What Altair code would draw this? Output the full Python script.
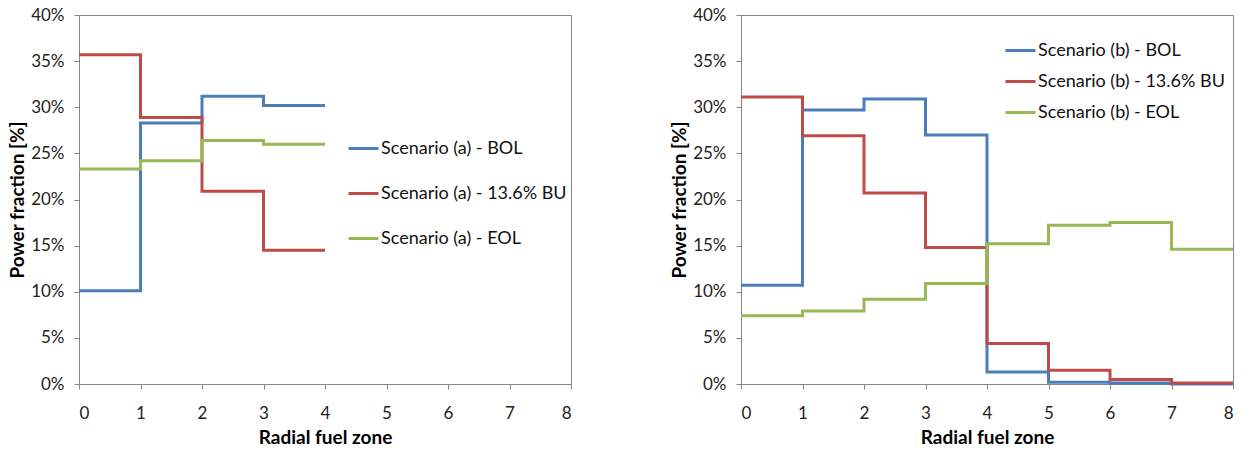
import altair as alt
import pandas as pd

# Scenario (a): four radial fuel zones, power fraction in percent
zones_a = [0, 1, 2, 3, 4]
bol_a = [10.1, 28.3, 31.2, 30.2, 30.2]
bu_a = [35.7, 28.9, 20.9, 14.5, 14.5]
eol_a = [23.3, 24.2, 26.4, 26.0, 26.0]

# Scenario (b): eight radial fuel zones
zones_b = [0, 1, 2, 3, 4, 5, 6, 7, 8]
bol_b = [10.7, 29.7, 30.9, 27.0, 1.3, 0.2, 0.1, 0.0, 0.0]
bu_b = [31.1, 26.9, 20.7, 14.8, 4.4, 1.5, 0.5, 0.1, 0.1]
eol_b = [7.4, 7.9, 9.2, 10.9, 15.2, 17.2, 17.5, 14.6, 14.6]

names_a = ["Scenario (a) - BOL", "Scenario (a) - 13.6% BU", "Scenario (a) - EOL"]
names_b = ["Scenario (b) - BOL", "Scenario (b) - 13.6% BU", "Scenario (b) - EOL"]
colors = ["#4A7EBB", "#BE4B48", "#98B954"]

FONT = "Lato"
GREY = "#868686"


def long_frame(zones, names, series):
    rows = []
    for k, (name, vals) in enumerate(zip(names, series)):
        for z, v in zip(zones, vals):
            rows.append({"zone": z, "value": v, "series": name, "k": k})
    return pd.DataFrame(rows)


def panel(df, names, lx, ly, row_pad):
    return (
        alt.Chart(df)
        .mark_line(interpolate="step-after", strokeWidth=3)
        .encode(
            x=alt.X(
                "zone:Q",
                scale=alt.Scale(domain=[0, 8], nice=False),
                axis=alt.Axis(
                    values=list(range(9)),
                    format="d",
                    title="Radial fuel zone",
                    labelPadding=16,
                    titlePadding=7,
                ),
            ),
            y=alt.Y(
                "value:Q",
                scale=alt.Scale(domain=[0, 40], nice=False),
                axis=alt.Axis(
                    values=list(range(0, 41, 5)),
                    labelExpr="datum.value + '%'",
                    title="Power fraction [%]",
                    labelPadding=10,
                    titlePadding=3,
                ),
            ),
            color=alt.Color(
                "series:N",
                scale=alt.Scale(domain=names, range=colors),
                legend=alt.Legend(
                    title=None,
                    orient="none",
                    legendX=lx,
                    legendY=ly,
                    symbolType="stroke",
                    symbolStrokeWidth=3,
                    symbolSize=900,
                    labelFontSize=18,
                    labelFont=FONT,
                    labelColor="#111111",
                    labelOffset=1,
                    labelLimit=400,
                    rowPadding=row_pad,
                ),
            ),
            order=alt.Order("k:Q"),
        )
        .properties(width=492, height=369)
    )


left = panel(long_frame(zones_a, names_a, [bol_a, bu_a, eol_a]), names_a, 268, 117, 19)
right = panel(long_frame(zones_b, names_b, [bol_b, bu_b, eol_b]), names_b, 263, 19, 5)

chart = (
    alt.hconcat(left, right, spacing=98)
    .resolve_scale(color="independent")
    .properties(padding={"left": 8, "top": 5, "right": 2, "bottom": 2}, background="white")
    .configure_view(stroke=GREY, strokeWidth=1)
    .configure_axis(
        grid=False,
        domainColor=GREY,
        tickColor=GREY,
        tickSize=5,
        labelFont=FONT,
        labelFontSize=17,
        labelColor="#222222",
        titleFont=FONT,
        titleFontSize=19,
        titleFontWeight="bold",
        titleColor="#000000",
    )
)

chart.save("out.html", embed_options={"renderer": "svg", "actions": False})
